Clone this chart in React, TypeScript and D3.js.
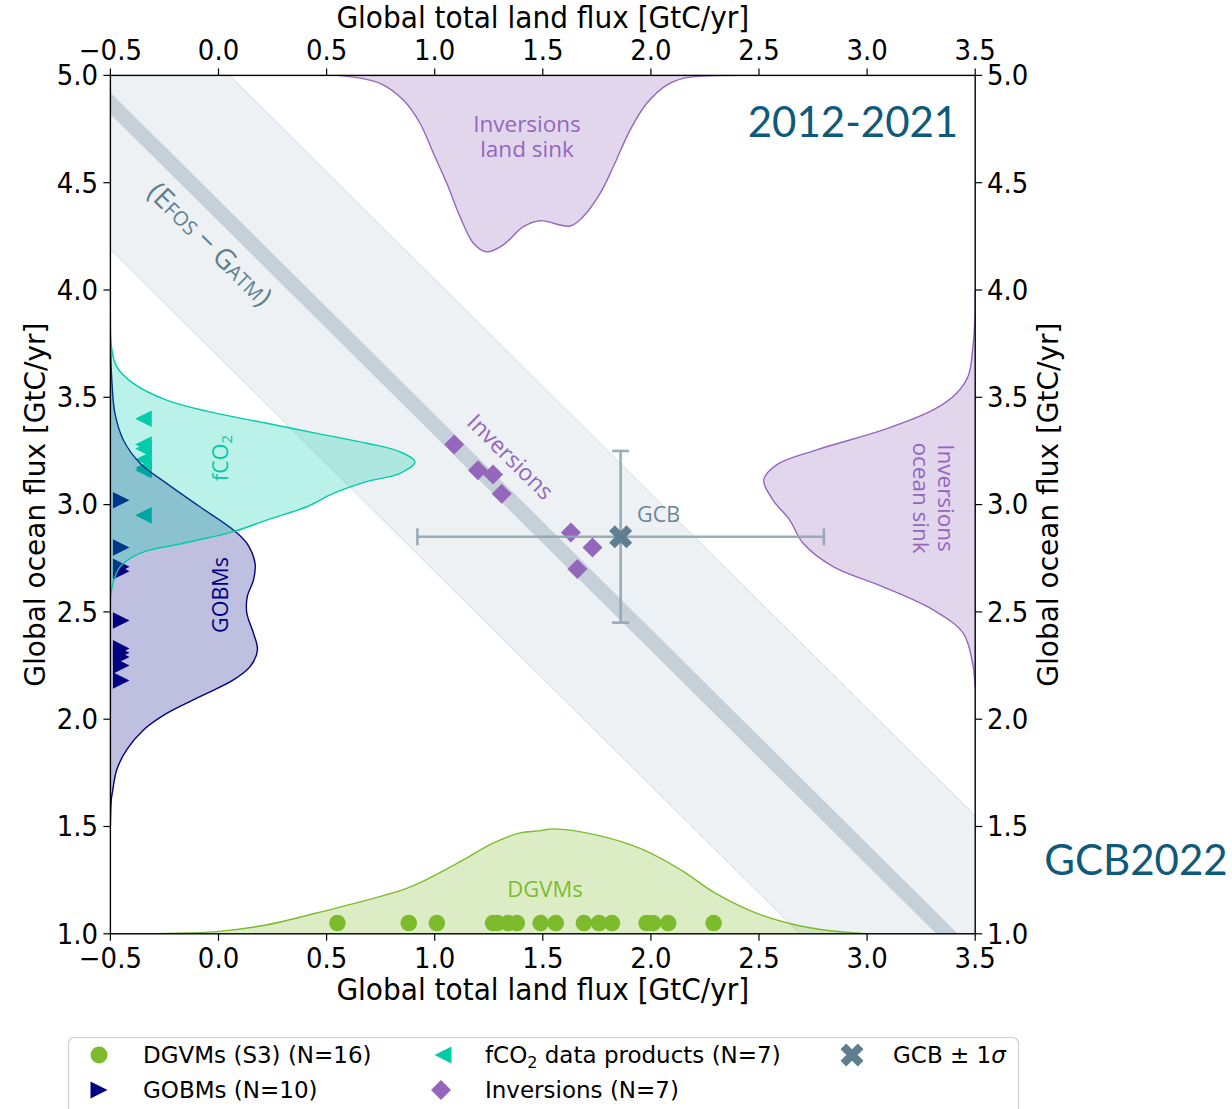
import React from "react";
import * as d3 from "d3";

// ---------------- data ----------------
const dgvmLand = [0.55, 0.88, 1.01, 1.27, 1.29, 1.34, 1.38, 1.49, 1.56, 1.69, 1.76, 1.82, 1.98, 2.01, 2.08, 2.29];
const dgvmMarkerY = 1.05;
const gobmOcean = [3.02, 2.8, 2.71, 2.69, 2.46, 2.33, 2.31, 2.29, 2.25, 2.18];
const gobmMarkerX = -0.45;
const fco2Ocean = [3.4, 3.28, 3.26, 3.21, 3.17, 3.16, 2.95];
const fco2MarkerX = -0.347;
const invLand = [1.09, 1.2, 1.27, 1.31, 1.63, 1.73, 1.66];
const invOcean = [3.28, 3.16, 3.14, 3.05, 2.87, 2.8, 2.7];
const gcbLand = 1.86;
const gcbOcean = 2.85;
const gcbSdLand = 0.94;
const gcbSdOcean = 0.4;
const budgetSum = 4.37; // E_FOS - G_ATM
const budgetHalfWidth = 0.05;
const budgetUncertainty = 0.68;

// density profiles: [value, height in axis units]
const dgvmDensity: [number, number][] = [
  [-0.5, 0], [-0.24, 0.002], [-0.01, 0.01], [0.22, 0.041], [0.45, 0.096], [0.69, 0.158], [0.87, 0.212],
  [0.99, 0.267], [1.12, 0.337], [1.27, 0.422], [1.39, 0.469], [1.49, 0.481], [1.55, 0.489], [1.75, 0.46],
  [1.95, 0.398], [2.14, 0.297], [2.3, 0.188], [2.49, 0.095], [2.67, 0.041], [2.83, 0.014], [2.98, 0.002], [3.5, 0],
];
const invLandDensity: [number, number][] = [
  [0.3, 0], [0.576, 0.002], [0.747, 0.037], [0.855, 0.115], [0.932, 0.223], [0.994, 0.363], [1.056, 0.503],
  [1.117, 0.658], [1.179, 0.782], [1.24, 0.822], [1.317, 0.79], [1.41, 0.705], [1.487, 0.677], [1.626, 0.702],
  [1.687, 0.658], [1.765, 0.55], [1.826, 0.426], [1.903, 0.256], [1.981, 0.13], [2.073, 0.045], [2.15, 0.014],
  [2.242, 0.003], [2.5, 0],
];
const fco2Density: [number, number][] = [
  [3.9, 0], [3.728, 0.006], [3.643, 0.029], [3.565, 0.106], [3.487, 0.26], [3.425, 0.492], [3.379, 0.723],
  [3.332, 0.954], [3.286, 1.185], [3.246, 1.34], [3.2, 1.409], [3.146, 1.34], [3.107, 1.185], [3.052, 1.031],
  [2.99, 0.908], [2.928, 0.723], [2.874, 0.569], [2.82, 0.337], [2.773, 0.137], [2.711, 0.045], [2.617, 0.008], [2.55, 0],
];
const gobmDensity: [number, number][] = [
  [3.75, 0], [3.59, 0.006], [3.425, 0.021], [3.301, 0.06], [3.193, 0.137], [3.099, 0.26], [2.99, 0.414],
  [2.882, 0.569], [2.82, 0.631], [2.726, 0.669], [2.649, 0.662], [2.571, 0.633], [2.494, 0.631], [2.4, 0.662],
  [2.322, 0.68], [2.245, 0.646], [2.183, 0.569], [2.105, 0.414], [2.027, 0.26], [1.95, 0.153], [1.857, 0.075],
  [1.763, 0.029], [1.67, 0.011], [1.623, 0.004], [1.5, 0],
];
const invOceanDensity: [number, number][] = [
  [4.0, 0], [3.88, 0.001], [3.74, 0.01], [3.6, 0.032], [3.519, 0.086], [3.441, 0.194], [3.348, 0.426],
  [3.255, 0.734], [3.185, 0.919], [3.115, 0.978], [3.021, 0.935], [2.928, 0.858], [2.82, 0.796], [2.711, 0.657],
  [2.617, 0.426], [2.509, 0.194], [2.4, 0.055], [2.26, 0.012], [2.15, 0],
];

const xTicks = [-0.5, 0, 0.5, 1, 1.5, 2, 2.5, 3, 3.5];
const yTicks = [1, 1.5, 2, 2.5, 3, 3.5, 4, 4.5, 5];

// ---------------- styling ----------------
const GREEN = "#7dbb2e";
const NAVY = "#000080";
const TEAL = "#00ccaa";
const PURPLE = "#9467bd";
const GCB_COL = "#5f7f8f";
const TITLE_COL = "#0f5a7a";
const ALPHA = 0.27;
const FONT = "'DejaVu Sans', sans-serif";
const ANNO_FONT = "'Open Sans', 'DejaVu Sans', sans-serif";
const TICK_FS = 26;
const TICK_SY = 1.08;

const fmt = (v: number) => (v < 0 ? "\u2212" : "") + Math.abs(v).toFixed(1);

function xMarkerPath(cx: number, cy: number, half: number, arm: number) {
  const L = half * Math.SQRT2 - arm;
  const W = arm;
  const pts = [
    [W, L], [W, W], [L, W], [L, -W], [W, -W], [W, -L], [-W, -L], [-W, -W], [-L, -W], [-L, W], [-W, W], [-W, L],
  ];
  const c = Math.SQRT1_2;
  return (
    "M" +
    pts.map(([px, py]) => `${cx + (px * c - py * c)},${cy + (px * c + py * c)}`).join("L") +
    "Z"
  );
}
const triRight = (cx: number, cy: number, s: number) => `M${cx + s},${cy}L${cx - s},${cy - s}L${cx - s},${cy + s}Z`;
const triLeft = (cx: number, cy: number, s: number) => `M${cx - s},${cy}L${cx + s},${cy - s}L${cx + s},${cy + s}Z`;
const diamond = (cx: number, cy: number, s: number) => `M${cx},${cy - s}L${cx + s},${cy}L${cx},${cy + s}L${cx - s},${cy}Z`;

function TickLabel({ x, y, anchor, children }: { x: number; y: number; anchor: string; children: React.ReactNode }) {
  return (
    <g transform={`translate(${x},${y}) scale(1,${TICK_SY})`}>
      <text x={0} y={0} textAnchor={anchor} fontSize={TICK_FS}>
        {children}
      </text>
    </g>
  );
}

export default function App() {
  const W = 1232;
  const H = 1109;
  const L = 110.4, R = 975.2, T = 75.4, B = 933.8;
  const x = d3.scaleLinear().domain([-0.5, 3.5]).range([L, R]);
  const y = d3.scaleLinear().domain([1, 5]).range([B, T]);

  const band = (c1: number, c2: number) => {
    const xa = -3, xb = 7;
    return `M${x(xa)},${y(c1 - xa)}L${x(xb)},${y(c1 - xb)}L${x(xb)},${y(c2 - xb)}L${x(xa)},${y(c2 - xa)}Z`;
  };
  const bandLine = (c: number) => `M${x(-3)},${y(c + 3)}L${x(7)},${y(c - 7)}`;

  const curve = d3.curveCatmullRom.alpha(0.5);

  const dgvmArea = d3.area<[number, number]>().x((d) => x(d[0])).y0(y(1)).y1((d) => y(1 + d[1])).curve(curve);
  const invLandArea = d3.area<[number, number]>().x((d) => x(d[0])).y0(y(5)).y1((d) => y(5 - d[1])).curve(curve);
  const leftArea = d3.area<[number, number]>().y((d) => y(d[0])).x0(x(-0.5)).x1((d) => x(-0.5 + d[1])).curve(curve);
  const rightArea = d3.area<[number, number]>().y((d) => y(d[0])).x0(x(3.5)).x1((d) => x(3.5 - d[1])).curve(curve);

  const angle = (Math.atan2(y(0) - y(1), x(1) - x(0)) * 180) / Math.PI;

  const gx = x(gcbLand), gy = y(gcbOcean);
  const cap = 8.5;

  return (
    <svg width={W} height={H} style={{ position: "absolute", left: 0, top: 0, background: "#fff" }} fontFamily={FONT}>
      <defs>
        <clipPath id="plotClip">
          <rect x={L} y={T} width={R - L} height={B - T} />
        </clipPath>
      </defs>

      <g clipPath="url(#plotClip)">
        {/* budget bands */}
        <path d={band(budgetSum - budgetUncertainty, budgetSum + budgetUncertainty)} fill="#edf1f4" />
        <path d={bandLine(budgetSum - budgetUncertainty)} stroke="#dde4ea" strokeWidth={1.2} fill="none" />
        <path d={bandLine(budgetSum + budgetUncertainty)} stroke="#dde4ea" strokeWidth={1.2} fill="none" />
        <path d={band(budgetSum - budgetHalfWidth, budgetSum + budgetHalfWidth)} fill="#c5d0d8" />

        {/* markers */}
        {dgvmLand.map((v, i) => (
          <circle key={"d" + i} cx={x(v)} cy={y(dgvmMarkerY)} r={8.3} fill={GREEN} />
        ))}
        {fco2Ocean.map((v, i) => (
          <path key={"f" + i} d={triLeft(x(fco2MarkerX), y(v), 8.3)} fill={TEAL} />
        ))}
        {gobmOcean.map((v, i) => (
          <path key={"g" + i} d={triRight(x(gobmMarkerX), y(v), 8.3)} fill={NAVY} />
        ))}

        {/* densities */}
        <path d={dgvmArea(dgvmDensity) || ""} fill={GREEN} fillOpacity={ALPHA} />
        <path d={dgvmArea.lineY1()(dgvmDensity) || ""} fill="none" stroke={GREEN} strokeWidth={1.4} />
        <path d={invLandArea(invLandDensity) || ""} fill={PURPLE} fillOpacity={ALPHA} />
        <path d={invLandArea.lineY1()(invLandDensity) || ""} fill="none" stroke={PURPLE} strokeWidth={1.4} />
        <path d={leftArea(gobmDensity) || ""} fill={NAVY} fillOpacity={0.25} />
        <path d={leftArea.lineX1()(gobmDensity) || ""} fill="none" stroke={NAVY} strokeWidth={1.4} />
        <path d={leftArea(fco2Density) || ""} fill={TEAL} fillOpacity={ALPHA} />
        <path d={leftArea.lineX1()(fco2Density) || ""} fill="none" stroke={TEAL} strokeWidth={1.4} />
        <path d={rightArea(invOceanDensity) || ""} fill={PURPLE} fillOpacity={ALPHA} />
        <path d={rightArea.lineX1()(invOceanDensity) || ""} fill="none" stroke={PURPLE} strokeWidth={1.4} />

        {/* inversions */}
        {invLand.map((v, i) => (
          <path key={"i" + i} d={diamond(x(v), y(invOcean[i]), 10)} fill={PURPLE} />
        ))}

        {/* GCB error bars */}
        <g stroke="#8fa6b3" strokeWidth={2.6} opacity={0.9}>
          <line x1={x(gcbLand - gcbSdLand)} x2={x(gcbLand + gcbSdLand)} y1={gy} y2={gy} />
          <line x1={x(gcbLand - gcbSdLand)} x2={x(gcbLand - gcbSdLand)} y1={gy - cap} y2={gy + cap} />
          <line x1={x(gcbLand + gcbSdLand)} x2={x(gcbLand + gcbSdLand)} y1={gy - cap} y2={gy + cap} />
          <line x1={gx} x2={gx} y1={y(gcbOcean - gcbSdOcean)} y2={y(gcbOcean + gcbSdOcean)} />
          <line x1={gx - cap} x2={gx + cap} y1={y(gcbOcean - gcbSdOcean)} y2={y(gcbOcean - gcbSdOcean)} />
          <line x1={gx - cap} x2={gx + cap} y1={y(gcbOcean + gcbSdOcean)} y2={y(gcbOcean + gcbSdOcean)} />
        </g>
        <path d={xMarkerPath(gx, gy, 11.5, 4)} fill={GCB_COL} />

        {/* annotations */}
        <text
          transform={`translate(211,243) rotate(${angle})`}
          textAnchor="middle"
          dominantBaseline="central"
          fill={GCB_COL}
          fontFamily={ANNO_FONT}
          fontSize={28}
        >
          (E<tspan fontSize={20} dy={3}>FOS</tspan>
          <tspan dy={-3}> − G</tspan>
          <tspan fontSize={20} dy={3}>ATM</tspan>
          <tspan dy={-3}>)</tspan>
        </text>
        <text
          transform={`translate(511,456) rotate(${angle})`}
          textAnchor="middle"
          dominantBaseline="central"
          fill={PURPLE}
          fontFamily={ANNO_FONT}
          fontSize={23}
        >
          Inversions
        </text>
        <text x={637} y={522} fill="#6a8797" fontFamily={ANNO_FONT} fontSize={21.5}>
          GCB
        </text>
        <text textAnchor="middle" fill={PURPLE} fontFamily={ANNO_FONT} fontSize={22.5}>
          <tspan x={527} y={132}>Inversions</tspan>
          <tspan x={527} y={157}>land sink</tspan>
        </text>
        <text x={545} y={897} textAnchor="middle" fill={GREEN} fontFamily={ANNO_FONT} fontSize={22}>
          DGVMs
        </text>
        <text transform="translate(228,458) rotate(-90)" textAnchor="middle" fill={TEAL} fontFamily={ANNO_FONT} fontSize={21.5}>
          fCO<tspan fontSize={15} dy={4}>2</tspan>
        </text>
        <text transform="translate(228,595) rotate(-90)" textAnchor="middle" fill={NAVY} fontFamily={ANNO_FONT} fontSize={21.5}>
          GOBMs
        </text>
        <g transform="translate(938,498) rotate(90)">
          <text textAnchor="middle" fill={PURPLE} fontFamily={ANNO_FONT} fontSize={22.5}>
            <tspan x={0} y={0}>Inversions</tspan>
            <tspan x={0} y={25}>ocean sink</tspan>
          </text>
        </g>
        <text x={853} y={137} textAnchor="middle" fill={TITLE_COL} fontFamily="Lato, 'Open Sans', sans-serif" fontSize={42}>
          2012-2021
        </text>
      </g>

      {/* spines */}
      <rect x={L} y={T} width={R - L} height={B - T} fill="none" stroke="#000" strokeWidth={1.4} />

      {/* ticks */}
      {xTicks.map((t) => (
        <g key={"xt" + t}>
          <line x1={x(t)} x2={x(t)} y1={B} y2={B + 7} stroke="#000" strokeWidth={1.2} />
          <line x1={x(t)} x2={x(t)} y1={T} y2={T - 7} stroke="#000" strokeWidth={1.2} />
          <TickLabel x={x(t)} y={968} anchor="middle">{fmt(t)}</TickLabel>
          <TickLabel x={x(t)} y={60} anchor="middle">{fmt(t)}</TickLabel>
        </g>
      ))}
      {yTicks.map((t) => (
        <g key={"yt" + t}>
          <line x1={L} x2={L - 7} y1={y(t)} y2={y(t)} stroke="#000" strokeWidth={1.2} />
          <line x1={R} x2={R + 7} y1={y(t)} y2={y(t)} stroke="#000" strokeWidth={1.2} />
          <TickLabel x={98} y={y(t) + 9.8} anchor="end">{fmt(t)}</TickLabel>
          <TickLabel x={987} y={y(t) + 9.8} anchor="start">{fmt(t)}</TickLabel>
        </g>
      ))}

      {/* axis labels */}
      <g transform={`translate(${(L + R) / 2},1000) scale(1,1.06)`}>
        <text textAnchor="middle" fontSize={28}>Global total land flux [GtC/yr]</text>
      </g>
      <g transform={`translate(${(L + R) / 2},28) scale(1,1.06)`}>
        <text textAnchor="middle" fontSize={28}>Global total land flux [GtC/yr]</text>
      </g>
      <text transform={`translate(45,${(T + B) / 2}) rotate(-90)`} textAnchor="middle" fontSize={28}>
        Global ocean flux [GtC/yr]
      </text>
      <text transform={`translate(1058,${(T + B) / 2}) rotate(-90)`} textAnchor="middle" fontSize={28}>
        Global ocean flux [GtC/yr]
      </text>

      <text x={1136} y={875} textAnchor="middle" fill={TITLE_COL} fontFamily="Lato, 'Open Sans', sans-serif" fontSize={42}>
        GCB2022
      </text>

      {/* legend */}
      <rect x={68.5} y={1037.5} width={950} height={90} rx={6} fill="#fff" stroke="#cfcfcf" strokeWidth={1.2} />
      <circle cx={99} cy={1055} r={8.5} fill={GREEN} />
      <text x={143} y={1063} fontSize={23}>DGVMs (S3) (N=16)</text>
      <path d={triRight(99, 1090, 8.5)} fill={NAVY} />
      <text x={143} y={1098} fontSize={23}>GOBMs (N=10)</text>
      <path d={triLeft(443, 1055, 8.5)} fill={TEAL} />
      <text x={485} y={1063} fontSize={23}>
        fCO<tspan fontSize={16} dy={5}>2</tspan>
        <tspan dy={-5}> data products (N=7)</tspan>
      </text>
      <path d={diamond(441, 1090, 10)} fill={PURPLE} />
      <text x={485} y={1098} fontSize={23}>Inversions (N=7)</text>
      <path d={xMarkerPath(852, 1055, 11.5, 4)} fill={GCB_COL} />
      <text x={893} y={1063} fontSize={23}>
        GCB ± 1<tspan fontStyle="italic">σ</tspan>
      </text>
    </svg>
  );
}
